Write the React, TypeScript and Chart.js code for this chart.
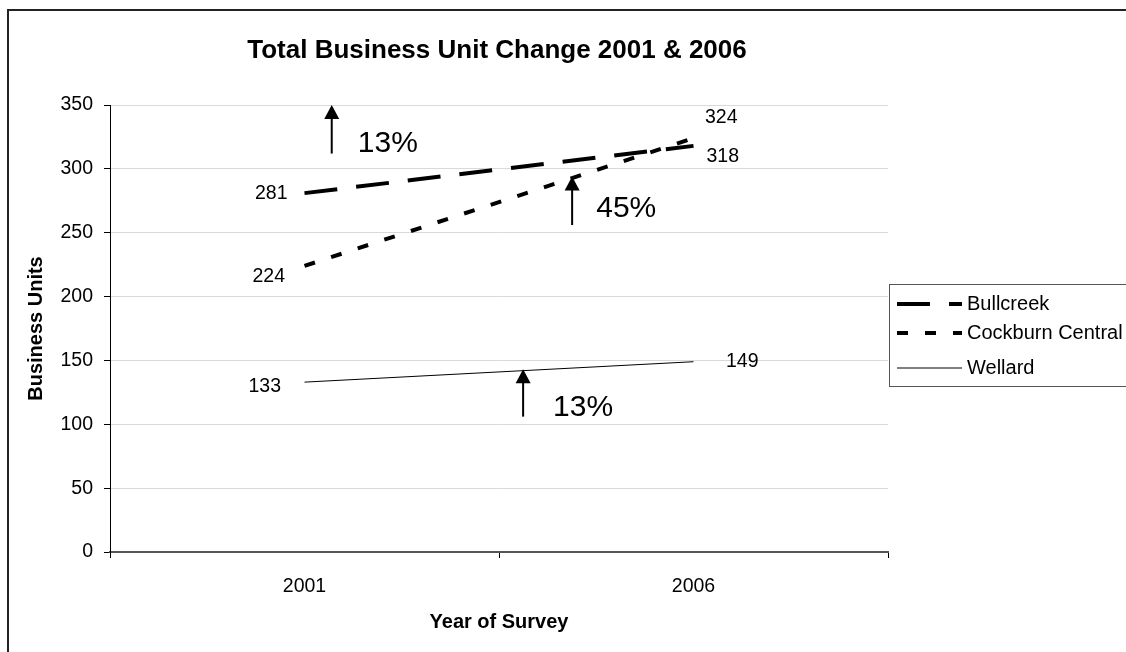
import React, { useEffect, useRef } from "react";
import { Chart, registerables } from "chart.js";

Chart.register(...registerables);

// ---- data ----
const years = ["2001", "2006"];
const bullcreek = [281, 318];
const cockburnCentral = [224, 324];
const wellard = [133, 149];
const seriesNames = ["Bullcreek", "Cockburn Central", "Wellard"];
const chartTitle = "Total Business Unit Change 2001 & 2006";
const xTitle = "Year of Survey";
const yTitle = "Business Units";

// change annotations (arrow positions in category-index / value units)
const arrowX = [0.07, 0.688, 0.562];
const arrowFrom = [312, 256, 106];
const arrowTo = [350, 294, 143];
const arrowText = ["13%", "45%", "13%"];
const arrowTextX = [0.137, 0.75, 0.639];
const arrowTextY = [320, 269, 113];

// ---- style ----
const FONT = '"Liberation Sans", Arial, Helvetica, sans-serif';
const LABEL_OFFSETS = [
  [[-17, 1], [13, 10.5]],
  [[-19.5, 10.5], [11.5, -21]],
  [[-23.5, 4], [32.5, 0]],
];
const LEGEND_ROWS = [304, 333, 368];

const decor = {
  id: "decor",
  afterDatasetsDraw(chart: any) {
    const ctx = chart.ctx;
    const xs = chart.scales.x;
    const ys = chart.scales.y;
    ctx.save();
    // data labels
    ctx.font = `19.5px ${FONT}`;
    ctx.fillStyle = "#000";
    ctx.textBaseline = "middle";
    chart.data.datasets.forEach((ds: any, i: number) => {
      const meta = chart.getDatasetMeta(i);
      meta.data.forEach((pt: any, j: number) => {
        const off = LABEL_OFFSETS[i][j];
        ctx.textAlign = j === 0 ? "right" : "left";
        ctx.fillText(String(ds.data[j]), pt.x + off[0], pt.y + off[1]);
      });
    });
    // arrows
    for (let k = 0; k < arrowX.length; k++) {
      const x = xs.getPixelForValue(arrowX[k]);
      const y0 = ys.getPixelForValue(arrowFrom[k]);
      const y1 = ys.getPixelForValue(arrowTo[k]);
      ctx.strokeStyle = "#000";
      ctx.lineWidth = 2;
      ctx.beginPath();
      ctx.moveTo(x, y0);
      ctx.lineTo(x, y1 + 12);
      ctx.stroke();
      ctx.fillStyle = "#000";
      ctx.beginPath();
      ctx.moveTo(x, y1);
      ctx.lineTo(x - 7.5, y1 + 14);
      ctx.lineTo(x + 7.5, y1 + 14);
      ctx.closePath();
      ctx.fill();
      ctx.font = `30px ${FONT}`;
      ctx.textAlign = "left";
      ctx.textBaseline = "middle";
      ctx.fillText(arrowText[k], xs.getPixelForValue(arrowTextX[k]), ys.getPixelForValue(arrowTextY[k]));
    }
    ctx.restore();
  },
  afterDraw(chart: any) {
    const ctx = chart.ctx;
    const area = chart.chartArea;
    ctx.save();
    // title
    ctx.font = `bold 26px ${FONT}`;
    ctx.fillStyle = "#000";
    ctx.textAlign = "center";
    ctx.textBaseline = "middle";
    ctx.fillText(chartTitle, (area.left + area.right) / 2 - 2, 51);
    // legend
    const lx = area.right + 1;
    ctx.strokeStyle = "#555";
    ctx.lineWidth = 1;
    ctx.strokeRect(lx + 0.5, 284.5, 300, 102);
    chart.data.datasets.forEach((ds: any, i: number) => {
      const y = LEGEND_ROWS[i];
      ctx.strokeStyle = ds.borderColor;
      ctx.lineWidth = ds.borderWidth;
      ctx.setLineDash(ds.borderDash || []);
      ctx.lineCap = "butt";
      ctx.beginPath();
      ctx.moveTo(lx + 8, y);
      ctx.lineTo(lx + 73, y);
      ctx.stroke();
      ctx.setLineDash([]);
      ctx.font = `20px ${FONT}`;
      ctx.fillStyle = "#000";
      ctx.textAlign = "left";
      ctx.textBaseline = "middle";
      ctx.fillText(ds.label, lx + 78, y);
    });
    // outer frame
    ctx.strokeStyle = "#222";
    ctx.lineWidth = 2;
    ctx.strokeRect(8, 10, 1300, 800);
    ctx.restore();
  },
};

export default function App() {
  const ref = useRef<HTMLCanvasElement | null>(null);
  useEffect(() => {
    if (!ref.current) return;
    const chart = new Chart(ref.current, {
      type: "line",
      data: {
        labels: years,
        datasets: [
          {
            label: seriesNames[0],
            data: bullcreek,
            borderColor: "#000",
            borderWidth: 4,
            borderDash: [33, 19],
            pointRadius: 0,
            tension: 0,
            fill: false,
          },
          {
            label: seriesNames[1],
            data: cockburnCentral,
            borderColor: "#000",
            borderWidth: 4,
            borderDash: [11, 17],
            pointRadius: 0,
            tension: 0,
            fill: false,
          },
          {
            label: seriesNames[2],
            data: wellard,
            borderColor: "#000",
            borderWidth: 1,
            pointRadius: 0,
            tension: 0,
            fill: false,
          },
        ],
      },
      options: {
        animation: false,
        responsive: false,
        maintainAspectRatio: false,
        layout: { padding: { top: 105, right: 238, left: 0, bottom: 0 } },
        plugins: {
          legend: { display: false },
          title: { display: false },
          tooltip: { enabled: false },
        },
        scales: {
          x: {
            type: "category",
            offset: true,
            grid: {
              offset: true,
              drawOnChartArea: false,
              drawTicks: true,
              tickLength: 6,
              tickColor: "#000",
              color: "#000",
            },
            border: { color: "#555", width: 2 },
            ticks: { font: { family: FONT, size: 19.5 }, color: "#000", padding: 17 },
            title: {
              display: true,
              text: xTitle,
              font: { family: FONT, size: 20, weight: "bold" },
              color: "#000",
              padding: { top: 0, bottom: 18 },
            },
            afterFit: (s: any) => {
              s.height = 100;
            },
          },
          y: {
            min: 0,
            max: 350,
            ticks: { stepSize: 50, font: { family: FONT, size: 19.5 }, color: "#000", padding: 11 },
            grid: { color: "#d9d9d9", tickColor: "#000", tickLength: 6, lineWidth: 1 },
            border: { color: "#000", width: 1 },
            title: {
              display: true,
              text: yTitle,
              font: { family: FONT, size: 20, weight: "bold" },
              color: "#000",
              padding: { top: 24, bottom: 0 },
            },
            afterFit: (s: any) => {
              s.width = 110;
            },
          },
        },
      },
      plugins: [decor],
    } as any);
    return () => chart.destroy();
  }, []);
  return (
    <div style={{ position: "absolute", left: 0, top: 0, width: 1126, height: 652, background: "#fff" }}>
      <canvas ref={ref} width={1126} height={652} style={{ display: "block" }} />
    </div>
  );
}
